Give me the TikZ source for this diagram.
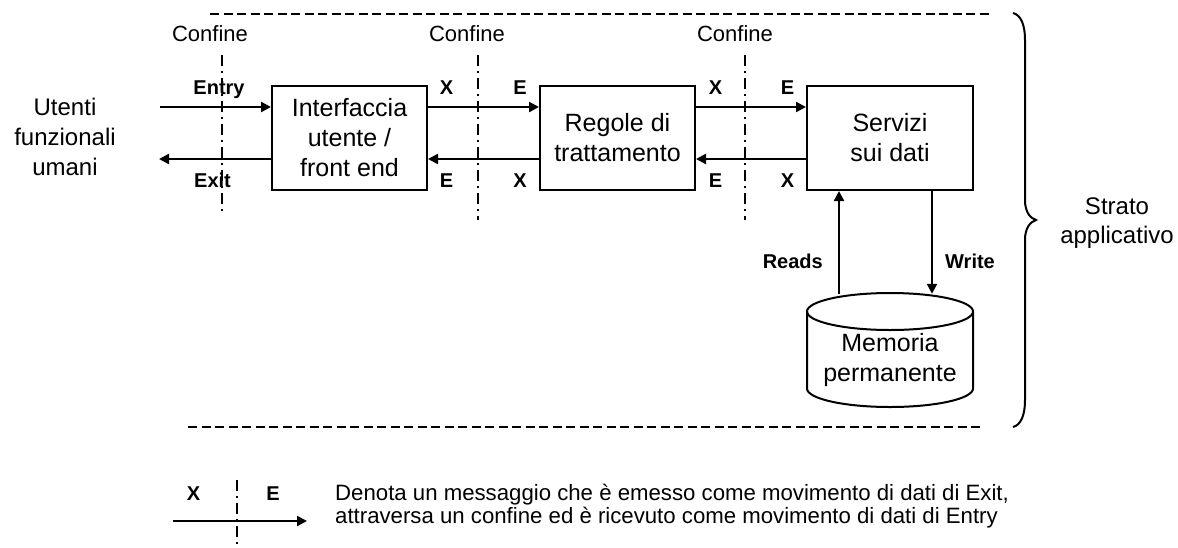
\documentclass[tikz,border=0pt]{standalone}
\usepackage{fontspec}
\setmainfont{Liberation Sans}
\usetikzlibrary{arrows.meta,calc}
\begin{document}
\begin{tikzpicture}[x=1pt,y=-1pt,
  boxst/.style={draw,line width=2pt,inner sep=0pt,align=center,minimum height=104pt,font=\fontsize{25}{30}\selectfont},
  arr/.style={line width=2.3pt,-{Triangle[length=10pt,width=10pt]}},
  bdy/.style={line width=2pt,dash pattern=on 11pt off 5pt on 2pt off 5pt},
  lay/.style={line width=1.6pt,dash pattern=on 9pt off 4.5pt},
  lbl/.style={font=\fontsize{20}{24}\selectfont\bfseries,inner sep=0pt,anchor=base},
  conf/.style={font=\fontsize{22}{26}\selectfont,inner sep=0pt,anchor=base},
  txt/.style={align=center,inner sep=0pt,font=\fontsize{24}{30}\selectfont},
  leg/.style={font=\fontsize{22.2}{23}\selectfont,inner sep=0pt,anchor=base west}]
\useasboundingbox (0,0) rectangle (1178,547);

% layer lines
\draw[lay] (210,14) -- (992,14);
\draw[lay] (188,427) -- (983,427);

% boundaries
\draw[bdy] (222,55) -- (222,212);
\draw[bdy] (478,55) -- (478,220);
\draw[bdy] (745,55) -- (745,220);
\node[conf] (c1) at (210,41) {Confine};
\node[conf] (c2) at (467,41) {Confine};
\node[conf] (c3) at (735,41) {Confine};

% boxes
\node[boxst,minimum width=155pt] (b1) at (349.5,138) {Interfaccia\\utente /\\front end};
\node[boxst,minimum width=155pt] (b2) at (617.5,138) {Regole di\\trattamento};
\node[boxst,minimum width=166pt] (b3) at (890,138) {Servizi\\sui dati};

% users
\node[txt] (users) at (65,137) {Utenti\\funzionali\\umani};
\coordinate (uin) at (160,107);
\coordinate (uout) at (159,159);
\draw[arr] (uin) -- (uin -| b1.west);
\draw[arr] (uout -| b1.west) -- (uout);
\node[lbl] (entry) at (219,94) {Entry};
\node[lbl] (exit) at (212.5,187) {Exit};

% flows b1 <-> b2
\draw[arr] ([yshift=31pt]b1.east) -- ([yshift=31pt]b2.west);
\draw[arr] ([yshift=-21pt]b2.west) -- ([yshift=-21pt]b1.east);
\node[lbl] (x1) at (446.5,94) {X};
\node[lbl] (e1) at (520,94) {E};
\node[lbl] (e2) at (446.5,187) {E};
\node[lbl] (x2) at (520,187) {X};

% flows b2 <-> b3
\draw[arr] ([yshift=31pt]b2.east) -- ([yshift=31pt]b3.west);
\draw[arr] ([yshift=-21pt]b3.west) -- ([yshift=-21pt]b2.east);
\node[lbl] (x3) at (715.5,94) {X};
\node[lbl] (e3) at (787.5,94) {E};
\node[lbl] (e4) at (715.5,187) {E};
\node[lbl] (x4) at (787.5,187) {X};

% cylinder
\draw[line width=2pt] (890,311.5) ellipse [x radius=83, y radius=18.5];
\draw[line width=2pt] (807,311.5) -- (807,388.5)
  .. controls (807,398.7) and (844.2,407) .. (890,407)
  .. controls (935.8,407) and (973,398.7) .. (973,388.5) -- (973,311.5);
\node[minimum width=166pt,minimum height=114pt,inner sep=0pt] (cyl) at (890,350) {};
\node[txt,font=\fontsize{25}{30}\selectfont] (mem) at (890,360) {Memoria\\permanente};

\draw[arr] ([xshift=-51pt,yshift=-1pt]cyl.north) -- ([xshift=-51pt]cyl.north |- b3.south);
\draw[arr] ([xshift=42pt]cyl.north |- b3.south) -- ([xshift=42pt,yshift=-1pt]cyl.north);
\node[lbl,anchor=base east] (reads) at (823,268) {Reads};
\node[lbl,anchor=base west] (write) at (945,268) {Write};

% brace
\draw[line width=2pt] (1013,13) .. controls (1021,15) and (1025,25) .. (1025,40)
  -- (1025,200) .. controls (1025,212) and (1030,218) .. (1036,220)
  .. controls (1030,222) and (1025,228) .. (1025,240)
  -- (1025,400) .. controls (1025,415) and (1021,425) .. (1013,427);
\node[txt,font=\fontsize{24}{29}\selectfont] (strato) at (1117,223) {Strato\\applicativo};

% legend
\draw[bdy] (237,480) -- (237,547);
\coordinate (la) at (173,521);
\coordinate (lb) at (307,521);
\draw[arr] (la) -- (lb);
\node[lbl] (lx) at (193.5,500) {X};
\node[lbl] (le) at (273,500) {E};
\node[leg] (l1) at (335,500) {Denota un messaggio che è emesso come movimento di dati di Exit,};
\node[leg] (l2) at (335,523) {attraversa un confine ed è ricevuto come movimento di dati di Entry};
\end{tikzpicture}
\end{document}
